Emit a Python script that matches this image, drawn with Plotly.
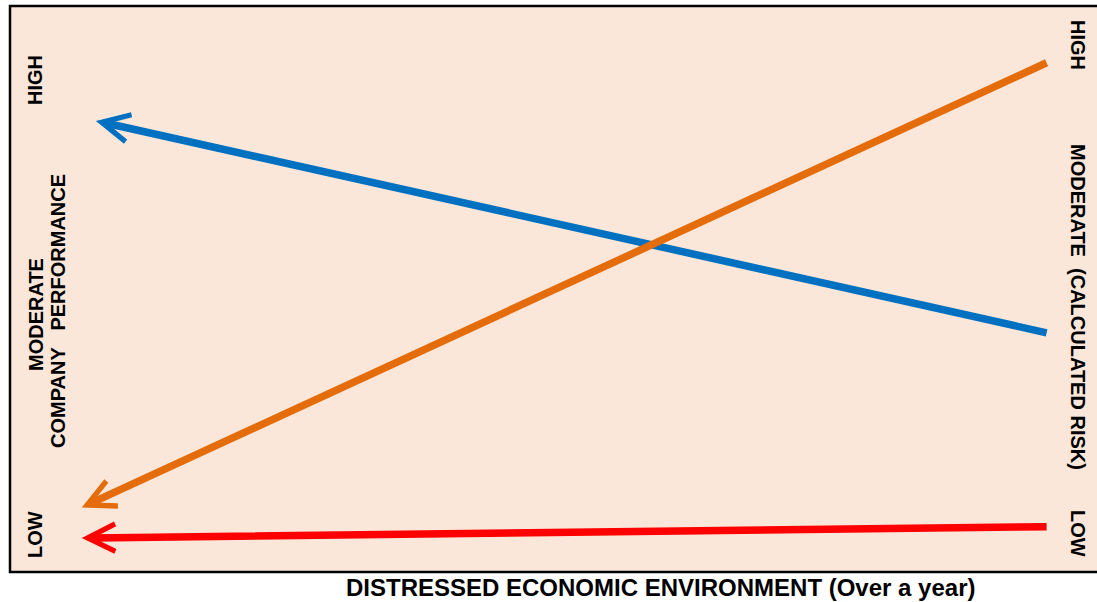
import plotly.graph_objects as go

# ---- data (conceptual units: x = progress over the year 0..100, y = level 0..100) ----
series_names = ["Company performance", "Calculated risk", "Low baseline"]
series_colors = ["#0070C0", "#E46C0A", "#FF0000"]
x_start = [95.5, 95.5, 95.5]       # tail of each arrow (right side)
y_start = [42.2, 90.1, 8.0]
x_end = [7.9, 6.6, 6.6]            # arrow tips (left side)
y_end = [79.7, 11.4, 6.0]

left_labels = ["HIGH", "MODERATE", "COMPANY\u00a0\u00a0\u00a0PERFORMANCE", "LOW"]
right_labels = ["HIGH", "MODERATE\u00a0\u00a0(CALCULATED RISK)", "LOW"]
x_title = "DISTRESSED ECONOMIC ENVIRONMENT (Over a year)"

W, H = 1097, 602
ML, MR, MT, MB = 10, 0, 6, 30
pw, ph = W - ML - MR, H - MT - MB

def px_x(p):
    return (p - ML) / pw

def px_y(p):
    return (H - MB - p) / ph

fig = go.Figure()
fig.add_trace(go.Scatter(x=[0, 100], y=[0, 100], mode="markers",
                         marker=dict(opacity=0), hoverinfo="skip", showlegend=False))

# background box
fig.add_shape(type="rect", xref="paper", yref="paper", x0=0, x1=1.01, y0=0, y1=1,
              fillcolor="#FBE7D9", line=dict(color="black", width=2.5), layer="below")

FAM = "Arial, Liberation Sans, sans-serif"
font = dict(family=FAM, size=20, color="black")

for name, c, xs, ys, xe, ye in zip(series_names, series_colors, x_start, y_start, x_end, y_end):
    fig.add_annotation(x=xe, y=ye, ax=xs, ay=ys, xref="x", yref="y", axref="x", ayref="y",
                       text="", showarrow=True, arrowhead=5, arrowsize=0.72,
                       arrowwidth=7.5, arrowcolor=c, standoff=0)

left_pos = [(35, 80), (36, 315), (58, 311), (35, 535)]
for t, (lx, ly) in zip(left_labels, left_pos):
    fig.add_annotation(x=px_x(lx), y=px_y(ly), xref="paper", yref="paper", text="<b>%s</b>" % t,
                       textangle=-90, showarrow=False, font=font,
                       xanchor="center", yanchor="middle")

right_pos = [(1078, 45), (1078, 307), (1078, 533)]
for t, (lx, ly) in zip(right_labels, right_pos):
    fig.add_annotation(x=px_x(lx), y=px_y(ly), xref="paper", yref="paper", text="<b>%s</b>" % t,
                       textangle=90, showarrow=False, font=font,
                       xanchor="center", yanchor="middle")

fig.add_annotation(x=px_x(660), y=px_y(587), xref="paper", yref="paper", text="<b>%s</b>" % x_title,
                   showarrow=False, font=dict(family=FAM, size=24, color="black"),
                   xanchor="center", yanchor="middle")

fig.update_xaxes(range=[0, 100], visible=False, fixedrange=True)
fig.update_yaxes(range=[0, 100], visible=False, fixedrange=True)
fig.update_layout(width=W, height=H, margin=dict(l=ML, r=MR, t=MT, b=MB),
                  paper_bgcolor="white", plot_bgcolor="rgba(0,0,0,0)", showlegend=False)

fig.write_html("out.html")
